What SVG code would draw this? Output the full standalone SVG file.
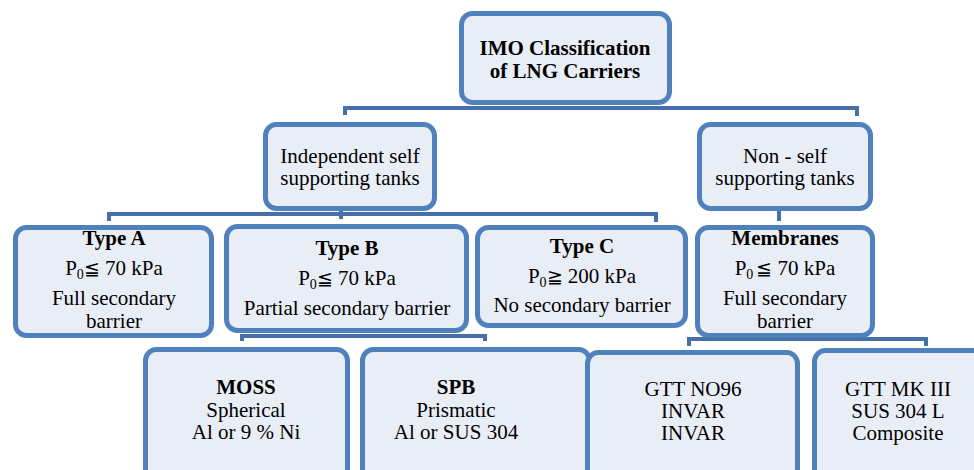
<svg xmlns="http://www.w3.org/2000/svg" width="974" height="470" viewBox="0 0 974 470">
<style>
.box{fill:#e9eef6;stroke:#4f81bd;stroke-width:5}
.c{fill:none;stroke:#4770aa;stroke-width:4}
.t text{font-size:21px;fill:#000;text-anchor:middle}
.b{font-weight:bold}
.sub{font-size:14px}
.sym{font-size:19px}
</style>
<rect width="974" height="470" fill="#fff"/>
<g id="connectors">
<path class="c" d="M343 108H859M345 108V115M857 108V116"/>
<path class="c" d="M107 214H658M109 214V221M656 214V222M341 210V219"/>
<path class="c" d="M779 210V221"/>
<path class="c" d="M240 336H487M242 336V341M485 336V341"/>
<path class="c" d="M687 339H928M689 339V346M926 339V346"/>
</g>
<g class="t" font-family="'Liberation Serif', 'Times New Roman', 'DejaVu Serif', serif">
<g id="root">
<rect class="box" x="461.5" y="13.5" width="208" height="89" rx="11"/>
<text class="b" x="565" y="55">IMO Classification</text>
<text class="b" x="565" y="78">of LNG Carriers</text>
</g>
<g id="independent">
<rect class="box" x="265.5" y="124.5" width="169" height="84" rx="11"/>
<text x="350" y="163">Independent self</text>
<text x="350" y="185">supporting tanks</text>
</g>
<g id="nonself">
<rect class="box" x="699.5" y="124.5" width="171" height="84" rx="11"/>
<text x="785" y="163">Non - self</text>
<text x="785" y="185">supporting tanks</text>
</g>
<g id="typeA">
<rect class="box" x="15.5" y="227.5" width="196" height="108" rx="11"/>
<text class="b" x="114" y="245">Type A</text>
<text x="114" y="275">P<tspan class="sub" dy="4">0</tspan><tspan class="sym" dy="-4">≦</tspan> 70 kPa</text>
<text x="114" y="305">Full secondary</text>
<text x="114" y="328">barrier</text>
</g>
<g id="typeB">
<rect class="box" x="226.5" y="226.5" width="240" height="104" rx="11"/>
<text class="b" x="347" y="255">Type B</text>
<text x="347" y="285">P<tspan class="sub" dy="4">0</tspan><tspan class="sym" dy="-4">≦</tspan> 70 kPa</text>
<text x="347" y="315">Partial secondary barrier</text>
</g>
<g id="typeC">
<rect class="box" x="477.5" y="227.5" width="208" height="98" rx="11"/>
<text class="b" x="582" y="253">Type C</text>
<text x="582" y="283">P<tspan class="sub" dy="4">0</tspan><tspan class="sym" dy="-4">≧</tspan> 200 kPa</text>
<text x="582" y="312">No secondary barrier</text>
</g>
<g id="membranes">
<rect class="box" x="697.5" y="227.5" width="175" height="108" rx="11"/>
<text class="b" x="785" y="245">Membranes</text>
<text x="785" y="275">P<tspan class="sub" dy="4">0</tspan><tspan class="sym" dx="3" dy="-4">≦</tspan> 70 kPa</text>
<text x="785" y="305">Full secondary</text>
<text x="785" y="328">barrier</text>
</g>
<g id="moss">
<rect class="box" x="145.5" y="349.5" width="202" height="140" rx="11"/>
<text class="b" x="246" y="394">MOSS</text>
<text x="246" y="417">Spherical</text>
<text x="246" y="439">Al or 9 % Ni</text>
</g>
<g id="spb">
<rect class="box" x="362.5" y="349.5" width="227" height="140" rx="11"/>
<text class="b" x="456" y="394">SPB</text>
<text x="456" y="417">Prismatic</text>
<text x="456" y="439">Al or SUS 304</text>
</g>
<g id="no96">
<rect class="box" x="587.5" y="352.5" width="210" height="140" rx="11"/>
<text x="693" y="396">GTT NO96</text>
<text x="693" y="418">INVAR</text>
<text x="693" y="440">INVAR</text>
</g>
<g id="mk3">
<rect class="box" x="814.5" y="350.5" width="180" height="140" rx="11"/>
<text x="898" y="396">GTT MK III</text>
<text x="898" y="418">SUS 304 L</text>
<text x="898" y="440">Composite</text>
</g>
</g>
</svg>
